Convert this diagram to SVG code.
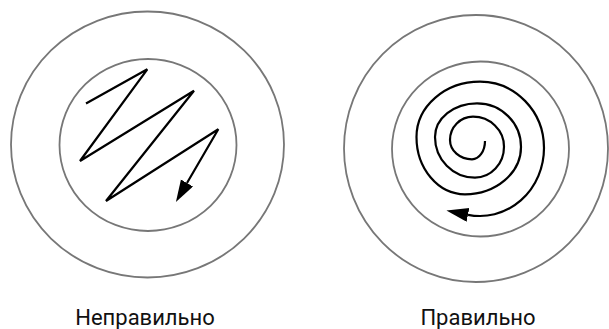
<svg xmlns="http://www.w3.org/2000/svg" width="609" height="329" viewBox="0 0 609 329">
<style>
.ring{fill:none;stroke:#777;stroke-width:1.8}
.line{fill:none;stroke:#000;stroke-width:2.2;marker-end:url(#arrow)}
.label{font-family:Roboto,"Noto Sans",sans-serif;font-size:22px;fill:#111;text-anchor:middle}
</style>
<defs>
<marker id="arrow" markerUnits="userSpaceOnUse" markerWidth="24" markerHeight="16" refX="0" refY="7" orient="auto">
<path d="M0,0 L22,7 L0,14 Z" fill="#000"/>
</marker>
</defs>
<g id="wrong">
<ellipse class="ring" cx="147.5" cy="144.5" rx="136.5" ry="133"/>
<ellipse class="ring" cx="148" cy="145" rx="88.5" ry="86"/>
<text class="label" x="145" y="325">Неправильно</text>
</g>
<g id="right">
<ellipse class="ring" cx="476" cy="148.5" rx="132" ry="133.5"/>
<ellipse class="ring" cx="480.5" cy="149" rx="88.5" ry="87.5"/>
<text class="label" x="478" y="325">Правильно</text>
</g>
<g id="connectors">
<path class="line" d="M86,103.5 L147.3,69.3 L80,161 L194,90.7 L106,201 L218.3,129.3 L187,183"/>
<path class="line" d="M485,141 A13,18.3 0 0 1 472,159.3 A22,19.3 0 0 1 450,140 A23,23.3 0 0 1 473,116.7 A31,30 0 0 1 504,146.7 A29,31 0 0 1 475,177.7 A40,40.7 0 0 1 435,137 A42,33.7 0 0 1 477,103.3 A44,43.7 0 0 1 521,147 A56,47.3 0 0 1 465,194.3 A48.5,57.3 0 0 1 416.5,137 A63.5,55.3 0 0 1 480,81.7 A64,66.3 0 0 1 544,148 A64,68 0 0 1 468,214.8"/>
</g>
</svg>
